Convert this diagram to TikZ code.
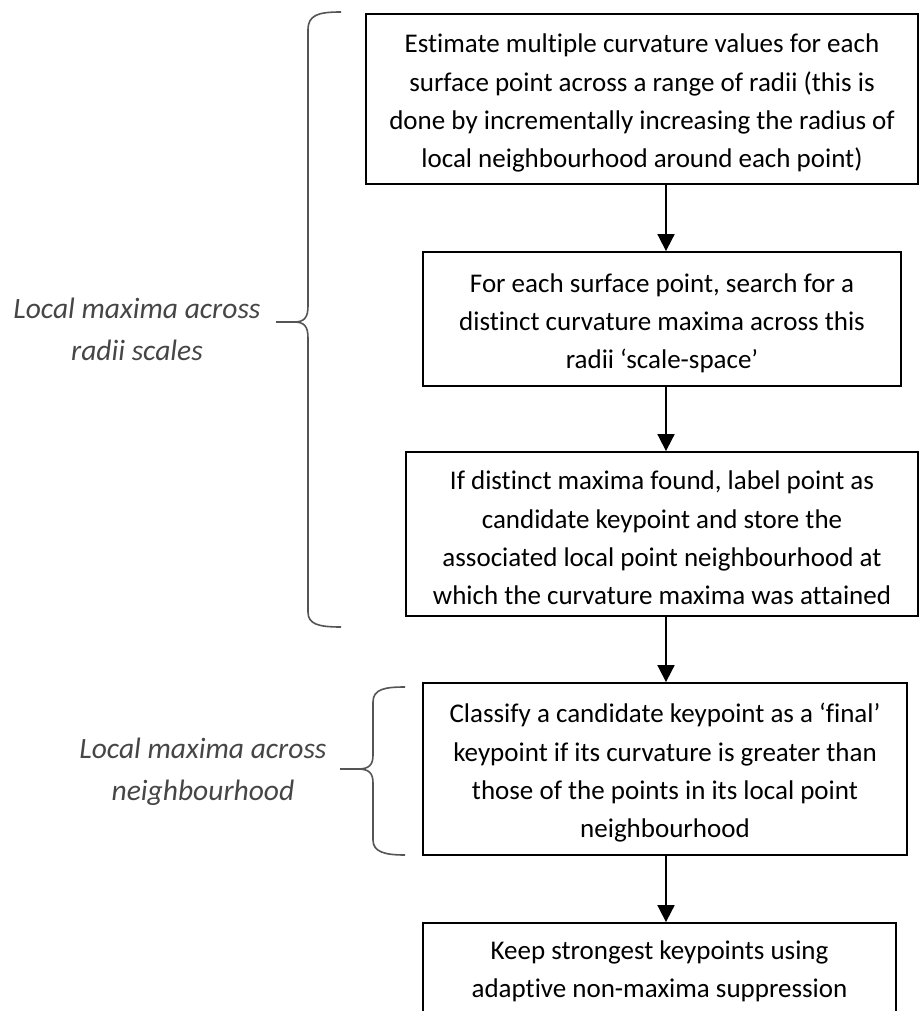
\documentclass[tikz,border=0pt]{standalone}
\usepackage{fontspec}
\setmainfont{Carlito}[RawFeature=-liga]
\usetikzlibrary{arrows.meta}
\definecolor{labelgray}{RGB}{70,70,70}
\definecolor{bracegray}{RGB}{85,85,85}
% extra room above the first line, so the text block sits a little lower
\newcommand{\firstline}{\rule{0pt}{27pt}}
\tikzset{
  stepbox/.style={draw=black, line width=1.8pt, align=center, inner sep=0pt,
    font=\fontsize{27}{38.3}\selectfont, text=black},
  flow/.style={line width=1.8pt, -{Triangle[length=17pt,width=17pt]}},
  sidelabel/.style={align=center, text=labelgray,
    font=\fontsize{29.5}{42}\selectfont\itshape},
  bracket/.style={draw=bracegray, line width=1.6pt}
}
\begin{document}
\begin{tikzpicture}[x=1pt,y=-1pt]
\useasboundingbox (0,0) rectangle (919,1011);
\fill[white] (0,0) rectangle (919,1011);
\clip (0,0) rectangle (919,1011);

% process steps
\node[stepbox, minimum width=552pt, minimum height=170pt] (b1) at (642,99)
  {\firstline Estimate multiple curvature values for each\\
   surface point across a range of radii (this is\\
   done by incrementally increasing the radius of\\
   local neighbourhood around each point)};
\node[stepbox, minimum width=478pt, minimum height=134pt] (b2) at (662,319)
  {\firstline For each surface point, search for a\\
   distinct curvature maxima across this\\
   radii ‘scale-space’};
\node[stepbox, minimum width=512pt, minimum height=164pt] (b3) at (662,534)
  {\firstline If distinct maxima found, label point as\\
   candidate keypoint and store the\\
   associated local point neighbourhood at\\
   which the curvature maxima was attained};
\node[stepbox, minimum width=484pt, minimum height=172pt] (b4) at (665,769)
  {\firstline Classify a candidate keypoint as a ‘final’\\
   keypoint if its curvature is greater than\\
   those of the points in its local point\\
   neighbourhood};
\node[stepbox, minimum width=473pt, minimum height=96pt] (b5) at (659.5,971)
  {Keep strongest keypoints using\\
   adaptive non-maxima suppression};

% arrows run down a common vertical
\coordinate (ax) at (666,0);
\draw[flow] (b1.south -| ax) -- (b2.north -| ax);
\draw[flow] (b2.south -| ax) -- (b3.north -| ax);
\draw[flow] (b3.south -| ax) -- (b4.north -| ax);
\draw[flow] (b4.south -| ax) -- (b5.north -| ax);

% grouping braces
\coordinate (tip1) at (276,322);
\coordinate (tip2) at (340,769);
\draw[bracket] (341,12) .. controls (318,12) and (308,15) .. (308,30)
  -- (308,306) .. controls (308,318) and (304,322) .. (294,322)
  .. controls (304,322) and (308,326) .. (308,338)
  -- (308,612) .. controls (308,624) and (318,627) .. (341,627);
\draw[bracket] (294,322) -- (tip1);
\draw[bracket] (405,687) .. controls (385,687) and (373,689) .. (373,702)
  -- (373,755) .. controls (373,765) and (369,769) .. (358,769)
  .. controls (369,769) and (373,773) .. (373,783)
  -- (373,840) .. controls (373,852) and (385,855) .. (405,855);
\draw[bracket] (358,769) -- (tip2);

% group labels
\node[sidelabel] (l1) at (137,329) {Local maxima across\\radii scales};
\node[sidelabel] (l2) at (203,772) {Local maxima across\\neighbourhood};
\end{tikzpicture}
\end{document}
